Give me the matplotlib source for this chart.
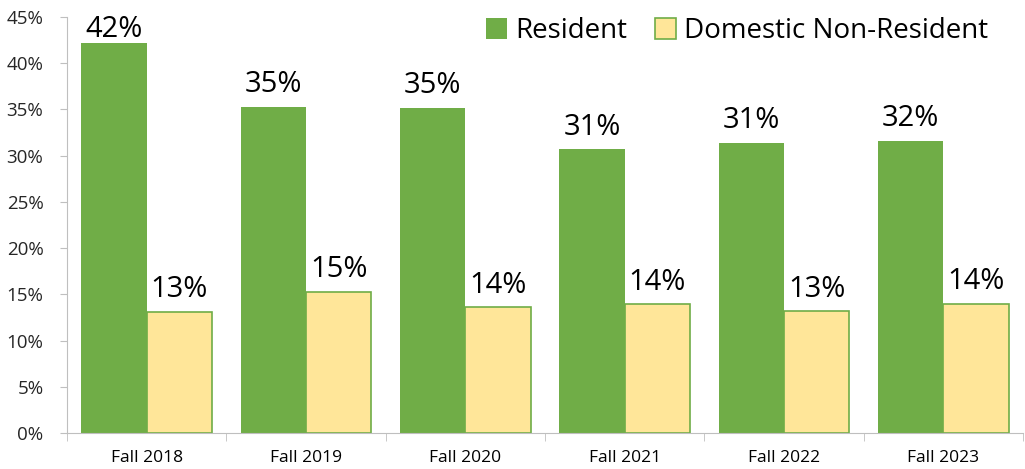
import numpy as np
import matplotlib.pyplot as plt
from matplotlib.ticker import FuncFormatter

plt.rcParams['font.family'] = ['Open Sans', 'DejaVu Sans']

terms = ['Fall 2018', 'Fall 2019', 'Fall 2020', 'Fall 2021', 'Fall 2022', 'Fall 2023']
resident = [42.2, 35.3, 35.2, 30.7, 31.4, 31.6]
non_resident = [13.1, 15.3, 13.6, 13.9, 13.2, 14.0]

green = '#70AD47'
yellow = '#FFE699'
axis_grey = '#BFBFBF'

fig = plt.figure(figsize=(10.25, 4.69), dpi=100)
ax = fig.add_axes([0.0654, 0.0768, 0.9326, 0.8869])

x = np.arange(len(terms))
w = 0.41
b1 = ax.bar(x - w / 2, resident, w, color=green, label='Resident', zorder=2)
b2 = ax.bar(x + w / 2, non_resident, w, color=yellow, edgecolor=green,
            linewidth=1.2, label='Domestic Non-Resident', zorder=2)

# labels sit above the bars, but are kept inside the plot area at the top
for bars, vals in [(b1, resident), (b2, non_resident)]:
    for r, v in zip(bars, vals):
        ax.text(r.get_x() + r.get_width() / 2, min(v + 0.8, 42.1),
                '{:.0f}%'.format(v), ha='center', va='bottom', fontsize=21)

ax.set_xlim(-0.5, len(terms) - 0.5)
ax.set_ylim(0, 45)
ax.set_yticks(np.arange(0, 46, 5))
ax.yaxis.set_major_formatter(FuncFormatter(lambda v, p: '{:.0f}%'.format(v)))
ax.set_xticks(x)
ax.set_xticklabels(terms)
ax.set_xticks(np.arange(-0.5, len(terms), 1), minor=True)
ax.tick_params(axis='x', which='major', length=0, labelsize=12.5, pad=12)
ax.tick_params(axis='x', which='minor', length=6, color=axis_grey)
ax.tick_params(axis='y', length=5, color=axis_grey, labelsize=13.5, pad=12,
               labelcolor='#262626')

for s in ['top', 'right']:
    ax.spines[s].set_visible(False)
for s in ['left', 'bottom']:
    ax.spines[s].set_color(axis_grey)

ax.legend(loc='upper right', bbox_to_anchor=(0.99, 1.06), ncol=2, frameon=False,
          fontsize=20, handlelength=0.75, handleheight=0.75, handletextpad=0.3,
          columnspacing=1.0)

fig.savefig('out.png', dpi=100)
